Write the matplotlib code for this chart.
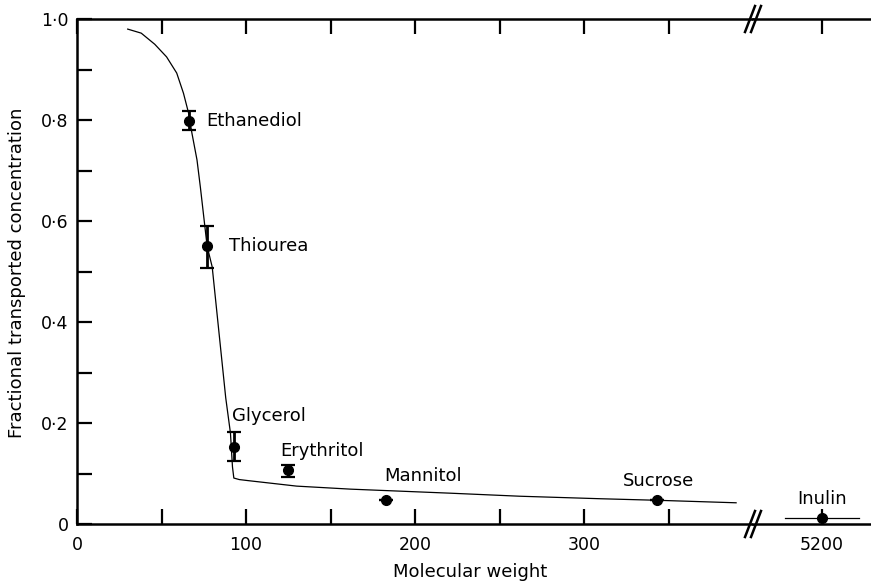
import matplotlib
matplotlib.use('Agg')
import matplotlib.pyplot as plt

plt.rcParams['font.family'] = ['DejaVu Sans']

# measured points (molecular weight, fractional concentration, error)
names = ['Ethanediol', 'Thiourea', 'Glycerol', 'Erythritol', 'Mannitol', 'Sucrose']
mw = [66, 77, 93, 125, 183, 343]
frac = [0.798, 0.550, 0.152, 0.107, 0.048, 0.048]
err_lo = [0.018, 0.043, 0.027, 0.014, 0, 0]
err_hi = [0.020, 0.040, 0.030, 0.010, 0, 0]

# label positions
label_x = [76.6, 90, 92, 120.5, 181.6, 323]
label_y = [0.798, 0.55, 0.214, 0.145, 0.095, 0.085]

# inulin sits past the axis break
inulin_mw = 5200
inulin_frac = 0.0125
inulin_span = [5178, 5222]

# fitted curve
curve_mw = [30, 38, 46, 53, 59, 63, 66, 68, 71, 73, 77, 80, 88, 90.8, 92, 92.8,
            96, 101, 130, 162, 221, 262, 310, 343, 390]
curve_y = [0.980, 0.972, 0.950, 0.925, 0.893, 0.853, 0.814, 0.774, 0.721, 0.667,
           0.550, 0.509, 0.250, 0.180, 0.113, 0.091, 0.088, 0.086, 0.075, 0.069,
           0.061, 0.055, 0.050, 0.047, 0.042]

yticks = [0, 0.2, 0.4, 0.6, 0.8, 1.0]
yticklabels = ['0', '0\u00b72', '0\u00b74', '0\u00b76', '0\u00b78', '1\u00b70']

fig = plt.figure(figsize=(8.71, 5.83), dpi=100)
W, H = 871, 583
ax = fig.add_axes([77 / W, (H - 524) / H, 676 / W, 505 / H])
ax2 = fig.add_axes([753 / W, (H - 524) / H, 140 / W, 505 / H])

ax.plot(curve_mw, curve_y, color='black', lw=0.9)
ax.errorbar(mw, frac, yerr=[err_lo, err_hi], fmt='o', color='black', ms=7,
            capsize=5, capthick=1.6, elinewidth=2)
for n, x, y in zip(names, label_x, label_y):
    ax.text(x, y, n, fontsize=13, ha='left', va='center')

ax2.plot(inulin_span, [inulin_frac, inulin_frac], color='black', lw=0.9)
ax2.plot([inulin_mw], [inulin_frac], 'o', color='black', ms=7, clip_on=False)
ax2.text(5185, 0.05, 'Inulin', fontsize=13, ha='left', va='center')

ax.set_xlim(0, 400)
ax.set_ylim(0, 1.0)
ax2.set_xlim(5159, 5159 + 140 / 1.685)
ax2.set_ylim(0, 1.0)

ax.set_xticks([0, 100, 200, 300])
ax.set_xticks([50, 150, 250, 350], minor=True)
ax.set_xticklabels(['0', '100', '200', '300'])
ax.set_yticks(yticks)
ax.set_yticklabels(yticklabels)
ax.set_yticks([0.1, 0.3, 0.5, 0.7, 0.9], minor=True)

ax2.set_xticks([5200])
ax2.set_xticklabels(['5200'])
ax2.set_yticks([])

for a in (ax, ax2):
    a.tick_params(which='both', direction='in', length=11, width=1.6,
                  top=True, labelsize=12.5, pad=6)
    a.tick_params(axis='x', which='both', pad=9)
    for s in a.spines.values():
        s.set_linewidth(1.8)
ax.spines['right'].set_visible(False)
ax2.spines['left'].set_visible(False)
ax2.spines['right'].set_visible(False)

# break marks "//" on top and bottom
bx = 753 / W
for yb in [(H - 19) / H, (H - 524) / H]:
    for off in [-3, 3]:
        x0 = bx + (off - 5) / W
        x1 = bx + (off + 5) / W
        fig.add_artist(plt.Line2D([x0, x1], [yb - 13 / H, yb + 13 / H],
                                  color='black', lw=1.8))

fig.text(470 / W, (H - 572) / H, 'Molecular weight', fontsize=13,
         ha='center', va='center')
fig.text(17 / W, (H - 273) / H, 'Fractional transported concentration',
         fontsize=13, rotation=90, ha='center', va='center')

fig.savefig('out.png', dpi=100)
